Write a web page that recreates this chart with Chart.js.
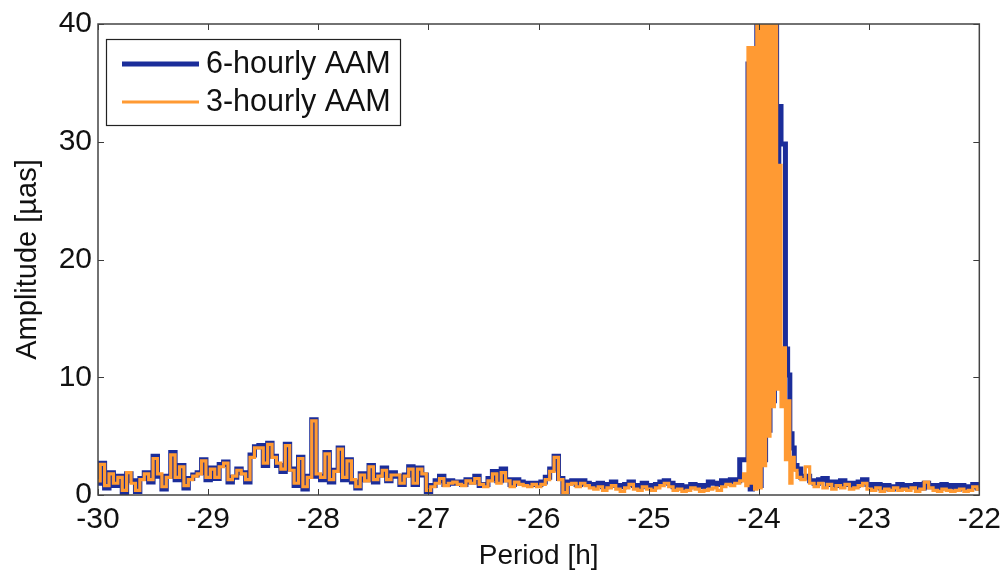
<!DOCTYPE html>
<html>
<head>
<meta charset="utf-8">
<script src="https://cdn.jsdelivr.net/npm/chart.js@4.4.1/dist/chart.umd.min.js"></script>
<style>
  html, body { margin: 0; padding: 0; background: #fff; }
  #wrap { width: 1008px; height: 577px; }
</style>
</head>
<body>
<div id="wrap"><canvas id="ampChart" width="1008" height="577"></canvas></div>
<script>
// period grid: one sample every 0.04 h starting at -30 h
const gridStart = -30;
const gridStep = 0.04;

// 3-hourly AAM amplitude [µas] on the grid (null = covered by the peak samples)
const aam3 = [
  1.2, 2.6, 0.8, 1.8, 1.0, 1.5, 0.4, 1.9, 1.0, 0.4,
  1.3, 1.8, 1.3, 3.1, 1.8, 0.7, 1.5, 3.4, 1.5, 2.4,
  0.8, 1.3, 1.6, 1.8, 2.9, 1.5, 2.2, 1.5, 2.4, 2.7,
  1.3, 1.6, 2.1, 1.8, 1.3, 3.2, 4.0, 4.0, 2.7, 4.3,
  3.2, 2.7, 2.2, 4.2, 2.1, 1.0, 3.1, 0.7, 1.5, 6.3,
  1.8, 1.5, 3.5, 1.3, 2.0, 3.9, 1.5, 2.9, 1.3, 0.7,
  1.7, 1.2, 2.4, 1.3, 1.6, 2.1, 1.3, 1.7, 1.7, 1.0,
  1.6, 2.2, 1.0, 2.2, 1.8, 0.4, 0.7, 1.0, 1.4, 0.8,
  1.0, 1.1, 0.9, 0.8, 1.2, 1.0, 1.4, 0.9, 0.7, 1.2,
  1.8, 1.0, 1.9, 1.2, 0.7, 1.1, 0.9, 0.8, 0.7, 0.9,
  0.7, 0.9, 1.3, 2.0, 3.2, 1.3, 0.2, 0.9, 1.0, 0.7,
  1.0, 0.8, 0.6, 0.5, 0.7, 0.4, 0.6, 0.8, 0.5, 0.3,
  0.6, 0.9, 0.5, 0.4, 0.7, 0.5, 0.4, 0.6, 0.8, 1.0,
  0.7, 0.4, 0.5, 0.3, 0.4, 0.6, 0.5, 0.3, 0.4, 0.5,
  0.6, 0.4, 0.7, 0.9, 0.8, 1.0,
  null, null, null, null, null, null, null, null, null, null, null, null, null,
  1.5, 1.3, 2.4, 1.0, 0.7, 1.0, 0.6, 0.9, 0.5, 0.8, 0.6,
  0.9, 0.5, 0.6, 0.8, 1.0, 0.5, 0.4, 0.6, 0.3, 0.5,
  0.4, 0.6, 0.4, 0.5, 0.4, 0.6, 0.3, 0.5, 1.1, 0.6,
  0.4, 0.3, 0.5, 0.4, 0.3, 0.4, 0.5, 0.3, 0.4, 0.7, 0.5
];

// 6-hourly AAM amplitude [µas] on the grid
const aam6 = [
  1.0, 2.7, 0.6, 1.9, 0.8, 1.6, 0.1, 1.8, 1.2, 0.3,
  1.4, 1.9, 1.1, 3.3, 1.6, 0.5, 1.6, 3.6, 1.3, 2.5,
  0.6, 1.4, 1.7, 1.9, 3.0, 1.3, 2.3, 1.4, 2.6, 2.8,
  1.1, 1.5, 2.2, 1.9, 1.1, 3.4, 4.1, 4.2, 2.5, 4.4,
  3.3, 2.5, 2.0, 4.3, 2.2, 0.8, 3.2, 0.5, 1.6, 6.4,
  1.6, 1.3, 3.6, 1.1, 2.1, 4.0, 1.3, 3.0, 1.1, 0.6,
  1.8, 1.3, 2.5, 1.1, 1.7, 2.3, 1.2, 1.9, 1.6, 0.9,
  1.7, 2.4, 0.9, 2.3, 1.7, 0.3, 0.8, 1.2, 1.6, 0.9,
  1.2, 1.0, 1.1, 0.9, 1.3, 1.1, 1.6, 0.8, 0.9, 1.4,
  2.0, 1.2, 2.2, 1.3, 0.9, 1.3, 1.1, 1.0, 0.9, 1.0,
  0.9, 1.1, 1.5, 2.2, 3.3, 1.4, 0.3, 1.1, 1.2, 0.9,
  1.2, 1.0, 0.9, 0.8, 1.0, 0.7, 0.9, 1.1, 0.8, 0.7,
  0.9, 1.1, 0.8, 0.7, 1.0, 0.8, 0.7, 0.9, 1.1, 1.2,
  1.0, 0.7, 0.8, 0.6, 0.7, 0.9, 0.8, 0.7, 0.8, 1.1,
  1.0, 0.9, 1.2, 1.1, 1.3, 1.2,
  null, null, null, null, null, null, null, null, null, null, null, null, null,
  2.2, 1.5, 1.6, 1.2, 1.0, 1.3, 1.4, 0.9, 1.1, 0.8, 1.2,
  0.9, 1.0, 0.8, 1.1, 1.3, 0.9, 0.7, 0.9, 0.6, 0.8,
  0.5, 0.7, 0.9, 0.6, 0.8, 0.7, 0.9, 0.6, 1.0, 0.7,
  0.8, 0.6, 0.9, 0.7, 0.8, 0.5, 0.8, 0.6, 0.7, 0.9, 0.6
];

// finer samples around the diurnal peak
const peakPeriods = [
  -24.15, -24.13, -24.11, -24.09, -24.07, -24.05, -24.03, -24.01, -23.99,
  -23.97, -23.95, -23.93, -23.91, -23.89, -23.87, -23.85, -23.83, -23.81,
  -23.79, -23.77, -23.75, -23.73, -23.71, -23.69, -23.67
];
const peakAam3 = [
  1.2, 1.8, 0.8, 38, 1.0, 38, 0.5, 55, 0.6,
  55, 2.5, 55, 5.0, 55, 7.5, 55, 9.0, 28,
  7.5, 12.5, 3.0, 8.0, 1.0, 3.2, 2.1
];
const peakAam6 = [
  3.0, 3.0, 3.0, 36.6, 0.5, 36.6, 1.0, 55, 0.8,
  55, 3.0, 55, 5.5, 55, 8.0, 55, 9.5, 33,
  29.8, 29.8, 12.4, 10.2, 5.2, 4.0, 2.5
];

const seriesNames = ["6-hourly AAM", "3-hourly AAM"];
const xTicks = [-30, -29, -28, -27, -26, -25, -24, -23, -22];
const yTicks = [0, 10, 20, 30, 40];

const FONT = "'Liberation Sans', Arial, sans-serif";
const BLUE = "#1b2d9a";
const ORANGE = "#ff9a33";

function buildPoints(gridVals, pVals) {
  const pts = [];
  gridVals.forEach((v, i) => {
    if (v !== null) pts.push({ x: gridStart + i * gridStep, y: v });
  });
  peakPeriods.forEach((p, i) => pts.push({ x: p, y: pVals[i] }));
  pts.sort((a, b) => a.x - b.x);
  return pts;
}

// MATLAB-like box, inward ticks and boxed legend
const boxPlugin = {
  id: "boxPlugin",
  afterDatasetsDraw(chart) {
    const { ctx, chartArea: a, scales } = chart;
    ctx.save();
    ctx.strokeStyle = "#3a3a3a";
    ctx.lineWidth = 1;
    const tl = 6;
    ctx.beginPath();
    xTicks.forEach(t => {
      const x = Math.round(scales.x.getPixelForValue(t)) + 0.5;
      ctx.moveTo(x, a.bottom); ctx.lineTo(x, a.bottom - tl);
      ctx.moveTo(x, a.top); ctx.lineTo(x, a.top + tl);
    });
    yTicks.forEach(t => {
      const y = Math.round(scales.y.getPixelForValue(t)) + 0.5;
      ctx.moveTo(a.left, y); ctx.lineTo(a.left + tl, y);
      ctx.moveTo(a.right, y); ctx.lineTo(a.right - tl, y);
    });
    ctx.stroke();
    ctx.lineWidth = 1.5;
    ctx.strokeStyle = "#444";
    ctx.strokeRect(a.left, a.top, a.right - a.left, a.bottom - a.top);

    // legend
    const lx = a.left + 8, ly = a.top + 15, lw = 294, lh = 86;
    ctx.fillStyle = "#fff";
    ctx.fillRect(lx, ly, lw, lh);
    ctx.lineWidth = 1.2;
    ctx.strokeStyle = "#222";
    ctx.strokeRect(lx + 0.5, ly + 0.5, lw, lh);
    ctx.font = "30.5px " + FONT;
    ctx.textBaseline = "middle";
    chart.data.datasets.forEach((ds, i) => {
      const yy = ly + 25 + i * 38;
      ctx.beginPath();
      ctx.strokeStyle = ds.borderColor;
      ctx.lineWidth = ds.borderWidth;
      ctx.moveTo(lx + 16, yy); ctx.lineTo(lx + 93, yy);
      ctx.stroke();
      ctx.fillStyle = "#111";
      ctx.fillText(ds.label, lx + 100, yy + 1);
    });
    ctx.restore();
  }
};

const ctx = document.getElementById("ampChart").getContext("2d");
const ampChart = new Chart(ctx, {
  type: "line",
  data: {
    datasets: [{
      label: seriesNames[0],
      data: buildPoints(aam6, peakAam6),
      borderColor: BLUE,
      borderWidth: 5,
      stepped: "middle",
      pointRadius: 0,
      fill: false,
      clip: 0,
      order: 2
    }, {
      label: seriesNames[1],
      data: buildPoints(aam3, peakAam3),
      borderColor: ORANGE,
      borderWidth: 3.2,
      stepped: "middle",
      pointRadius: 0,
      fill: false,
      clip: 0,
      order: 1
    }]
  },
  options: {
    responsive: false,
    animation: false,
    layout: { padding: { top: 18, right: 28, left: 0, bottom: 0 } },
    plugins: { legend: { display: false }, tooltip: { enabled: false } },
    scales: {
      x: {
        type: "linear",
        min: -30, max: -22,
        afterFit: s => { s.height = 82; },
        afterBuildTicks: s => { s.ticks = xTicks.map(v => ({ value: v })); },
        grid: { display: false, drawTicks: false },
        border: { display: false },
        ticks: { color: "#111", padding: 7, font: { family: FONT, size: 30 } },
        title: {
          display: true, text: "Period [h]", color: "#111",
          font: { family: FONT, size: 28 }, padding: { top: 0, bottom: 4 }
        }
      },
      y: {
        min: 0, max: 40,
        afterFit: s => { s.width = 98; },
        afterBuildTicks: s => { s.ticks = yTicks.map(v => ({ value: v })); },
        grid: { display: false, drawTicks: false },
        border: { display: false },
        ticks: { color: "#111", padding: 6, font: { family: FONT, size: 30 } },
        title: {
          display: true, text: "Amplitude [µas]", color: "#111",
          font: { family: FONT, size: 29 }, padding: { top: 11, bottom: 0 }
        }
      }
    }
  },
  plugins: [boxPlugin]
});
</script>
</body>
</html>
